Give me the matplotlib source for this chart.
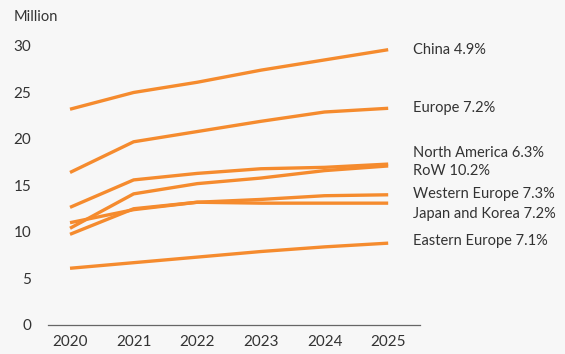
import matplotlib
matplotlib.use("Agg")
import matplotlib.pyplot as plt

plt.rcParams['font.family'] = ['Lato', 'DejaVu Sans']

years = [2020, 2021, 2022, 2023, 2024, 2025]

china = [23.2, 25.0, 26.1, 27.4, 28.5, 29.6]
europe = [16.4, 19.7, 20.8, 21.9, 22.9, 23.3]
north_america = [12.65, 15.6, 16.3, 16.8, 16.95, 17.3]
row = [10.4, 14.1, 15.2, 15.8, 16.6, 17.1]
western_europe = [11.0, 12.4, 13.2, 13.5, 13.9, 14.0]
japan_korea = [9.75, 12.5, 13.2, 13.1, 13.1, 13.1]
eastern_europe = [6.1, 6.7, 7.3, 7.9, 8.4, 8.8]

series = [china, europe, north_america, row, western_europe, japan_korea, eastern_europe]
labels = ["China 4.9%", "Europe 7.2%", "North America 6.3%", "RoW 10.2%",
          "Western Europe 7.3%", "Japan and Korea 7.2%", "Eastern Europe 7.1%"]
label_y = [29.6, 23.3, 18.5, 16.6, 14.1, 11.9, 9.0]

bg = '#f7f7f7'
orange = '#f58b2e'
text_col = '#333333'

fig = plt.figure(figsize=(5.65, 3.54), dpi=100, facecolor=bg)
ax = fig.add_axes([48 / 565, 29 / 354, 372 / 565, 286 / 354])
ax.set_facecolor(bg)

for vals in series:
    ax.plot(years, vals, color=orange, linewidth=2.4, solid_capstyle='butt')

for lab, y in zip(labels, label_y):
    ax.text(2025.39, y, lab, fontsize=10.5, color=text_col, va='center', ha='left',
            clip_on=False)

ax.set_xlim(2019.654, 2025.5)
ax.set_ylim(0, 30.75)
ax.set_xticks(years)
ax.set_yticks([0, 5, 10, 15, 20, 25, 30])

for s in ['top', 'right', 'left']:
    ax.spines[s].set_visible(False)
ax.spines['bottom'].set_color('#666666')
ax.spines['bottom'].set_linewidth(0.9)
ax.tick_params(axis='both', length=0, labelsize=11, labelcolor=text_col)
ax.tick_params(axis='y', pad=12)
ax.tick_params(axis='x', pad=7)

fig.text(14 / 565, 1 - 17 / 354, "Million", fontsize=10.5, color=text_col,
         va='center', ha='left')

fig.savefig("out.png", dpi=100, facecolor=bg)
